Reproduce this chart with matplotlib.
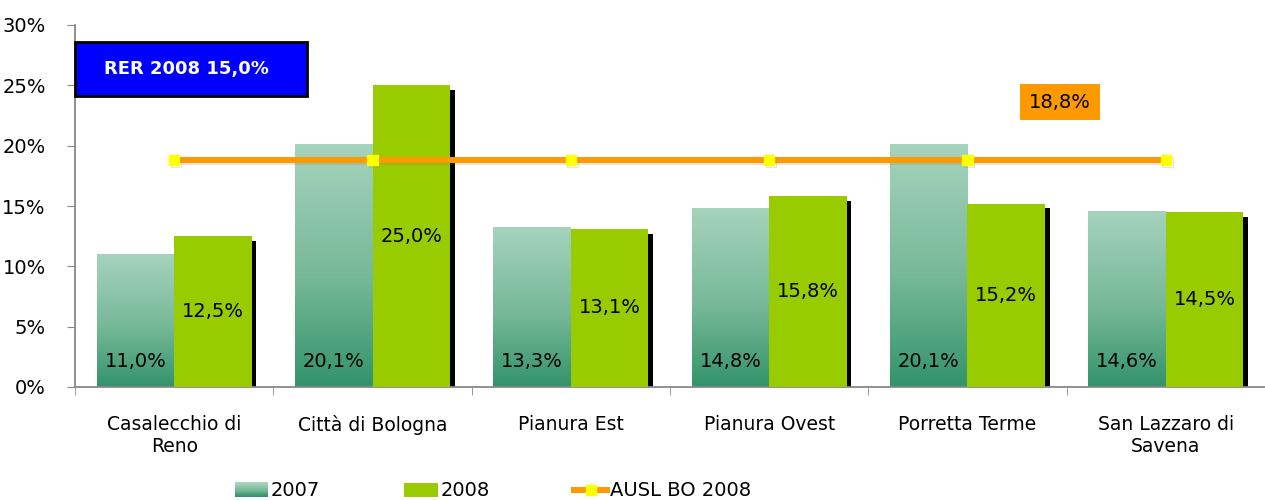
import numpy as np
import matplotlib
matplotlib.use('Agg')
import matplotlib.pyplot as plt
import matplotlib.patheffects as pe
from matplotlib.patches import Rectangle
from matplotlib.legend_handler import HandlerBase
from matplotlib.colors import LinearSegmentedColormap
from matplotlib.lines import Line2D

# data
categories = ['Casalecchio di\nReno', 'Città di Bologna', 'Pianura Est',
              'Pianura Ovest', 'Porretta Terme', 'San Lazzaro di\nSavena']
v2007 = [11.0, 20.1, 13.3, 14.8, 20.1, 14.6]
v2008 = [12.5, 25.0, 13.1, 15.8, 15.2, 14.5]
ausl_2008 = 18.8
rer_2008 = 15.0
yticks = [0, 5, 10, 15, 20, 25, 30]

def fmt(v):
    return ('%.1f%%' % v).replace('.', ',')

C_TOP = '#a6d3bd'
C_BOT = '#33936a'
C_2008 = '#99cc00'
C_LINE = '#ff9900'
grad_cmap = LinearSegmentedColormap.from_list('g07', [(0, C_BOT), (0.45, '#76b898'), (1, C_TOP)])

plt.rcParams['font.family'] = 'DejaVu Sans'

fig = plt.figure(figsize=(12.65, 5), dpi=100)
ax = fig.add_axes([75/1265, 113/500, 1190/1265, 362/500])

x = np.arange(len(categories))
w = 0.39

# shadow behind 2008 bars
ax.bar(x + w/2 + 0.025, np.array(v2008) - 0.4, w, color='black', zorder=1)
bars07 = ax.bar(x - w/2, v2007, w, color=C_TOP, zorder=2)
bars08 = ax.bar(x + w/2, v2008, w, color=C_2008, zorder=3)

grad = np.linspace(0, 1, 256).reshape(-1, 1)
for b in bars07:
    im = ax.imshow(grad, extent=[b.get_x(), b.get_x() + b.get_width(), 0, b.get_height()],
                   origin='lower', aspect='auto', cmap=grad_cmap, zorder=2)
    im.set_clip_path(b)

for i in range(len(categories)):
    ax.text(x[i] - w/2, 2.1, fmt(v2007[i]), ha='center', va='center', fontsize=14, zorder=5)
    ax.text(x[i] + w/2, v2008[i] / 2, fmt(v2008[i]), ha='center', va='center', fontsize=14, zorder=5)

ax.plot(x, [ausl_2008] * len(x), color=C_LINE, lw=4.3, marker='s', ms=7.5,
        mfc='#ffff00', mec='#ffff00', zorder=6,
        path_effects=[pe.SimpleLineShadow(offset=(1.2, -1.2), shadow_color='gray', alpha=0.2),
                      pe.Normal()])

ax.set_xlim(-0.5, 5.5)
ax.set_ylim(0, 30)
ax.set_yticks(yticks)
ax.set_yticklabels([str(t) + '%' for t in yticks], fontsize=14)
ax.set_xticks(x)
ax.set_xticklabels(categories, fontsize=13.5)
ax.set_xticks(np.arange(-0.5, 6, 1), minor=True)
ax.tick_params(axis='x', which='major', length=0, pad=20)
ax.tick_params(axis='x', which='minor', length=6, color='#888888', direction='out')
ax.tick_params(axis='y', length=6, color='#888888', pad=15)
for s in ['top', 'right']:
    ax.spines[s].set_visible(False)
for s in ['left', 'bottom']:
    ax.spines[s].set_color('#888888')
    ax.spines[s].set_linewidth(1.3)

# RER box
ax.add_patch(Rectangle((0, 0.804), 0.195, 0.149, transform=ax.transAxes,
                       facecolor='#0000ff', edgecolor='black', lw=2, clip_on=False, zorder=7))
ax.text(0.0937, 0.878, 'RER 2008 ' + fmt(rer_2008), transform=ax.transAxes,
        ha='center', va='center', color='white', fontsize=13, fontweight='bold', zorder=8)

# AUSL value box
ax.text(4.467, 23.6, fmt(ausl_2008), ha='center', va='center', fontsize=14, zorder=8,
        bbox=dict(boxstyle='square,pad=0.45', facecolor=C_LINE, edgecolor='none'))

# legend
class GradHandler(HandlerBase):
    def create_artists(self, legend, orig, xd, yd, width, height, fontsize, trans):
        n = 20
        arts = []
        for k in range(n):
            r = Rectangle((xd, yd + height * k / n), width, height / n + 0.3,
                          facecolor=grad_cmap(k / (n - 1)), edgecolor='none', transform=trans)
            arts.append(r)
        return arts

h07 = Rectangle((0, 0), 1, 1)
h08 = Rectangle((0, 0), 1, 1, facecolor=C_2008)
hl = Line2D([], [], color=C_LINE, lw=4.3, marker='s', ms=7.5, mfc='#ffff00', mec='#ffff00')
fig.legend([h07, h08, hl], ['2007', '2008', 'AUSL BO 2008'], loc='center',
           bbox_to_anchor=(493/1265, 0.018), ncol=3, frameon=False, fontsize=14,
           handlelength=1.7, handletextpad=0.15, columnspacing=4.35,
           handler_map={h07: GradHandler()})

fig.savefig('out.png', dpi=100)
